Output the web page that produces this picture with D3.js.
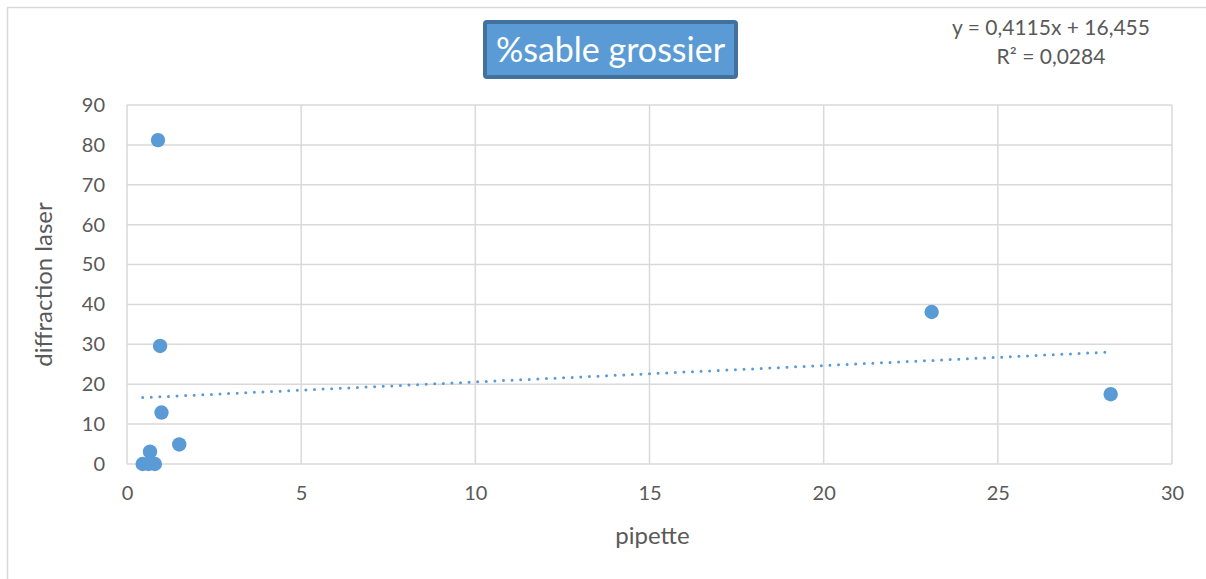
<!DOCTYPE html>
<html>
<head>
<meta charset="utf-8">
<script src="https://cdn.jsdelivr.net/npm/d3@7/dist/d3.min.js"></script>
<style>
  html, body { margin: 0; padding: 0; background: #fff; overflow: hidden; }
  svg { display: block; font-family: Lato, "Open Sans", sans-serif; }
</style>
</head>
<body>
<svg id="chart" width="1206" height="579"></svg>
<script>
// Measurements: pipette (x) vs laser diffraction (y), % coarse sand
const pipette    = [0.89, 0.95, 0.99, 1.50, 0.66, 0.45, 0.62, 0.80, 23.10, 28.24];
const diffraction = [81.2, 29.6, 12.9, 4.9, 3.1, 0.0, 0.0, 0.0, 38.1, 17.5];
const xTicks = [0, 5, 10, 15, 20, 25, 30];
const yTicks = [0, 10, 20, 30, 40, 50, 60, 70, 80, 90];
const slope = 0.4115, intercept = 16.455;
const titleText = "%sable grossier";
const equationLines = ["y = 0,4115x + 16,455", "R² = 0,0284"];

const svg = d3.select("#chart");
const W = 1206, H = 579;
const plot = { left: 127, right: 1172, top: 105, bottom: 464 };

// outer chart frame (top and left edges fall inside the view)
svg.append("line").attr("x1", 7).attr("x2", W).attr("y1", 7.5).attr("y2", 7.5)
  .attr("stroke", "#d9d9d9").attr("stroke-width", 1.5);
svg.append("line").attr("x1", 7.5).attr("x2", 7.5).attr("y1", 7).attr("y2", H)
  .attr("stroke", "#d9d9d9").attr("stroke-width", 1.5);

const x = d3.scaleLinear().domain([0, 30]).range([plot.left, plot.right]);
const y = d3.scaleLinear().domain([0, 90]).range([plot.bottom, plot.top]);

// gridlines
const grid = svg.append("g");
grid.selectAll("line.h").data(yTicks).join("line")
  .attr("x1", plot.left).attr("x2", plot.right)
  .attr("y1", d => y(d)).attr("y2", d => y(d))
  .attr("stroke", "#d9d9d9").attr("stroke-width", 1.5);
grid.selectAll("line.v").data(xTicks).join("line")
  .attr("y1", plot.top).attr("y2", plot.bottom)
  .attr("x1", d => x(d)).attr("x2", d => x(d))
  .attr("stroke", "#d9d9d9").attr("stroke-width", 1.5);

// axes (labels only, line drawn by grid)
const xAxis = svg.append("g")
  .attr("transform", `translate(0,${plot.bottom})`)
  .call(d3.axisBottom(x).tickValues(xTicks).tickSize(0).tickPadding(22).tickFormat(d3.format("d")));
const yAxis = svg.append("g")
  .attr("transform", `translate(${plot.left},0)`)
  .call(d3.axisLeft(y).tickValues(yTicks).tickSize(0).tickPadding(22).tickFormat(d3.format("d")));
[xAxis, yAxis].forEach(a => {
  a.select(".domain").remove();
  a.selectAll("text")
    .attr("fill", "#595959")
    .style("font-size", "20px")
    .style("font-family", "Lato, 'Open Sans', sans-serif");
});

// axis titles
svg.append("text")
  .attr("x", (plot.left + plot.right) / 2 + 3).attr("y", 544)
  .attr("text-anchor", "middle").attr("fill", "#595959")
  .style("font-size", "24px").text("pipette");
svg.append("text")
  .attr("transform", `translate(52,${(plot.top + plot.bottom) / 2}) rotate(-90)`)
  .attr("text-anchor", "middle").attr("fill", "#595959")
  .style("font-size", "24px").text("diffraction laser");

// linear trendline (dotted)
const xMin = d3.min(pipette), xMax = d3.max(pipette);
svg.append("line")
  .attr("x1", x(xMin)).attr("y1", y(slope * xMin + intercept))
  .attr("x2", x(xMax)).attr("y2", y(slope * xMax + intercept))
  .attr("stroke", "#5b9bd5").attr("stroke-width", 3)
  .attr("stroke-dasharray", "0 8.6").attr("stroke-linecap", "round");

// points
svg.append("g").selectAll("circle")
  .data(pipette.map((p, i) => [p, diffraction[i]]))
  .join("circle")
  .attr("cx", d => x(d[0])).attr("cy", d => y(d[1]))
  .attr("r", 7.2).attr("fill", "#5b9bd5");

// title box
const tb = { x: 485, y: 22, w: 251, h: 55 };
svg.append("rect")
  .attr("x", tb.x).attr("y", tb.y).attr("width", tb.w).attr("height", tb.h)
  .attr("rx", 2)
  .attr("fill", "#5b9bd5").attr("stroke", "#41719c").attr("stroke-width", 4);
svg.append("text")
  .attr("x", tb.x + tb.w / 2).attr("y", tb.y + tb.h / 2 + 12)
  .attr("text-anchor", "middle").attr("fill", "#fff")
  .style("font-size", "34px").text(titleText);

// regression equation
svg.append("g").selectAll("text").data(equationLines).join("text")
  .attr("x", 1051).attr("y", (d, i) => 35 + i * 29)
  .attr("text-anchor", "middle").attr("fill", "#595959")
  .style("font-size", "21px").text(d => d);
</script>
</body>
</html>
